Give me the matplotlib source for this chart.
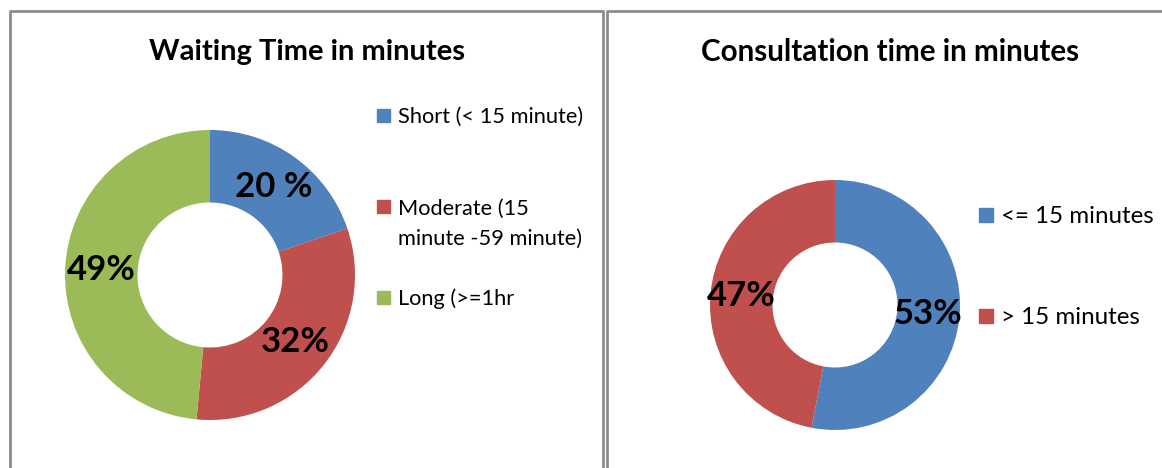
import numpy as np
import matplotlib.pyplot as plt
from matplotlib.lines import Line2D
from matplotlib.patches import Rectangle

plt.rcParams['font.family'] = ['Lato', 'DejaVu Sans']

# waiting time
wait_labels = ['Short (< 15 minute)', 'Moderate (15\nminute -59 minute)', 'Long (>=1hr']
wait_values = [20, 32, 49]
wait_text = ['20 %', '32%', '49%']

# consultation time
cons_labels = ['<= 15 minutes', '> 15 minutes']
cons_values = [53, 47]
cons_text = ['53%', '47%']

colors = ['#4F81BD', '#C0504D', '#9BBB59']
W, H = 1162, 468

fig = plt.figure(figsize=(W / 100, H / 100), dpi=100)


def px_axes(cx, cy, r):
    return fig.add_axes([(cx - r) / W, (H - cy - r) / H, 2 * r / W, 2 * r / H])


def donut(ax, values, texts):
    wedges, _ = ax.pie(values, colors=colors[:len(values)], startangle=90,
                       counterclock=False, radius=1,
                       wedgeprops=dict(width=0.5, edgecolor='none'))
    for w, t in zip(wedges, texts):
        ang = np.deg2rad((w.theta1 + w.theta2) / 2)
        ax.text(0.75 * np.cos(ang), 0.75 * np.sin(ang), t, ha='center', va='center',
                fontsize=25, fontweight='bold', color='black')
    ax.set_xlim(-1, 1)
    ax.set_ylim(-1, 1)
    ax.set_aspect('equal')
    ax.axis('off')


donut(px_axes(210, 275, 145), wait_values, wait_text)
donut(px_axes(835, 305, 125), cons_values, cons_text)

# titles
fig.text(307 / W, 1 - 52 / H, 'Waiting Time in minutes', ha='center', va='center',
         fontsize=21, fontweight='bold')
fig.text(890 / W, 1 - 52 / H, 'Consultation time in minutes', ha='center', va='center',
         fontsize=21.3, fontweight='bold')


# legends
def legend(x, ys, labels, size, box):
    for y, lab, c in zip(ys, labels, colors):
        fig.patches.append(Rectangle((x / W, 1 - (y + box / 2) / H), box / W, box / H,
                                     transform=fig.transFigure, color=c))
        fig.text((x + box + 8) / W, 1 - y / H, lab.split('\n')[0], ha='left',
                 va='center_baseline', fontsize=size)
        if '\n' in lab:
            fig.text((x + box + 8) / W, 1 - (y + 30) / H, lab.split('\n')[1], ha='left',
                     va='center_baseline', fontsize=size)


legend(377, [115, 207, 297], wait_labels, 15.7, 13)
legend(979, [215, 316], cons_labels, 17.4, 14)

# panel borders
border = dict(color='#8c8c8c', lw=2, transform=fig.transFigure)
fig.add_artist(Line2D([10 / W, 10 / W, 603 / W, 603 / W], [0, 1 - 11 / H, 1 - 11 / H, 0], **border))
fig.add_artist(Line2D([607 / W, 607 / W, 1], [0, 1 - 11 / H, 1 - 11 / H], **border))

fig.savefig('out.png', dpi=100)
